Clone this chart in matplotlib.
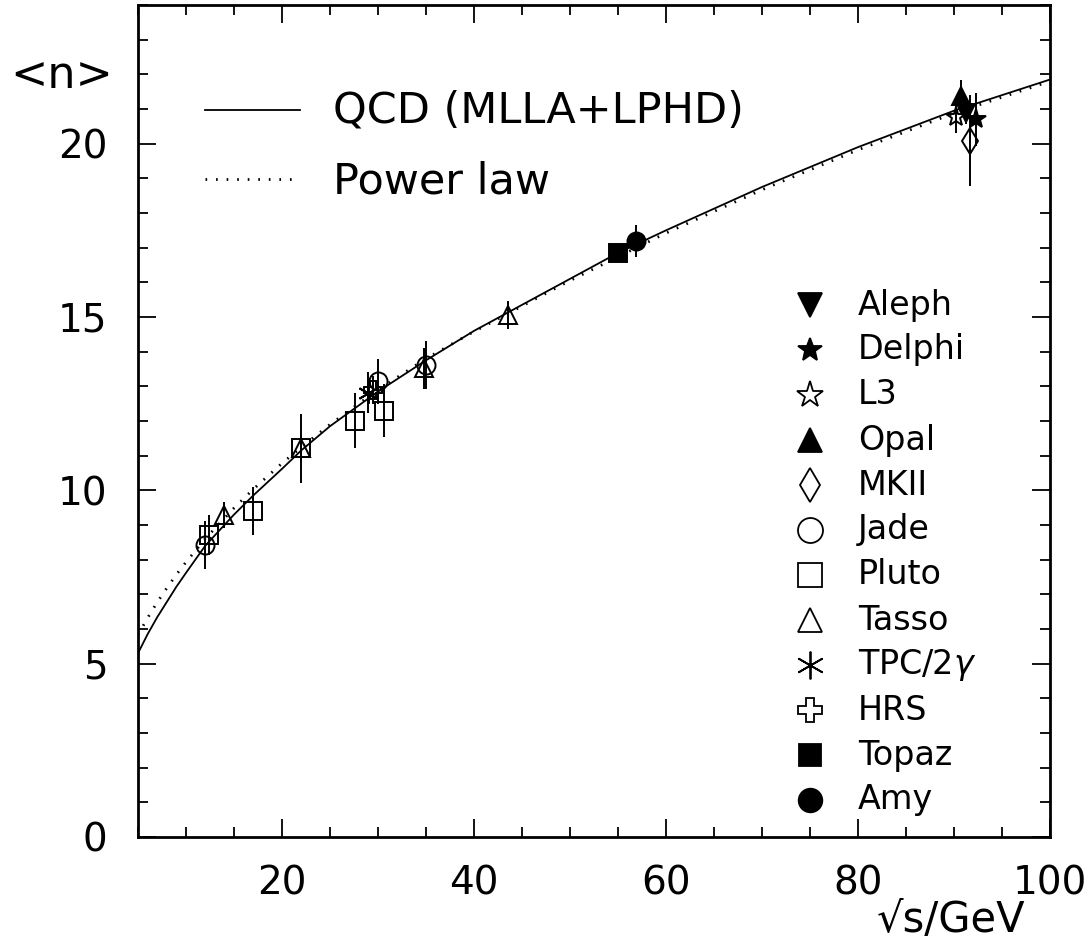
import matplotlib
matplotlib.use("Agg")
import matplotlib.pyplot as plt
from matplotlib.ticker import MultipleLocator

# ---------------- data ----------------
qcd_x = [5, 6, 7, 8, 9, 10, 12, 15, 17, 20, 22, 25, 30, 35, 40, 45, 50, 55, 60, 70, 80, 90, 100]
qcd_y = [5.30, 5.85, 6.34, 6.78, 7.22, 7.62, 8.40, 9.30, 9.85, 10.62, 11.15, 11.85, 12.85, 13.75,
         14.60, 15.35, 16.10, 16.85, 17.50, 18.75, 19.90, 20.95, 21.85]

pow_x = [5, 6, 7, 8, 9, 10, 12, 15, 17, 20, 22, 25, 30, 35, 40, 50, 60, 70, 80, 90, 100]
pow_y = [5.83, 6.32, 6.77, 7.18, 7.57, 7.93, 8.60, 9.49, 10.03, 10.78, 11.24, 11.90, 12.90, 13.80,
         14.58, 16.05, 17.42, 18.67, 19.82, 20.88, 21.80]

aleph_x, aleph_y, aleph_e = [91.2], [20.88], [0.30]
delphi_x, delphi_y, delphi_e = [92.3], [20.70], [0.76]
l3_x, l3_y, l3_e = [90.2], [20.76], [0.46]
opal_x, opal_y, opal_e = [90.7], [21.38], [0.45]
mkii_x, mkii_y, mkii_e = [91.7], [20.09], [1.30]
jade_x, jade_y, jade_e = [12.0, 30.0, 35.0], [8.42, 13.14, 13.62], [0.70, 0.65, 0.70]
pluto_x, pluto_y, pluto_e = [12.4, 17.0, 22.0, 27.6, 30.6], [8.71, 9.41, 11.21, 12.01, 12.30], [0.58, 0.69, 1.00, 0.80, 0.77]
tasso_x, tasso_y, tasso_e = [14.0, 22.0, 34.8, 43.5], [9.29, 11.21, 13.52, 15.06], [0.38, 0.40, 0.60, 0.41]
tpc_x, tpc_y, tpc_e = [29.0], [12.82], [0.60]
hrs_x, hrs_y, hrs_e = [29.5], [12.90], [0.40]
topaz_x, topaz_y, topaz_e = [55.0], [16.86], [0.27]
amy_x, amy_y, amy_e = [56.9], [17.19], [0.47]

curve_labels = ["QCD (MLLA+LPHD)", "Power law"]
exp_labels = ["Aleph", "Delphi", "L3", "Opal", "MKII", "Jade", "Pluto", "Tasso",
              "TPC/2$\\gamma$", "HRS", "Topaz", "Amy"]

# ---------------- styles ----------------
W, H = 1088, 950
fig = plt.figure(figsize=(W / 100, H / 100), dpi=100)
L, R, B, T = 138, 1050, 837, 5
ax = fig.add_axes([L / W, 1 - B / H, (R - L) / W, (B - T) / H])

FONT = "DejaVu Sans"
plt.rcParams["font.family"] = [FONT]

DOT = (0, (0.6, 3.2))
ax.plot(qcd_x, qcd_y, color="black", lw=1.3, zorder=2)
ax.plot(pow_x, pow_y, color="black", lw=2.0, linestyle=DOT, zorder=2)

series = [
    (aleph_x, aleph_y, aleph_e, "v", "black", 13),
    (delphi_x, delphi_y, delphi_e, "*", "black", 15),
    (l3_x, l3_y, l3_e, "*", "none", 15),
    (opal_x, opal_y, opal_e, "^", "black", 13),
    (mkii_x, mkii_y, mkii_e, "d", "none", 13),
    (jade_x, jade_y, jade_e, "o", "none", 13),
    (pluto_x, pluto_y, pluto_e, "s", "none", 13),
    (tasso_x, tasso_y, tasso_e, "^", "none", 13),
    (tpc_x, tpc_y, tpc_e, (6, 2, 0), "black", 15),
    (hrs_x, hrs_y, hrs_e, "P", "none", 13),
    (topaz_x, topaz_y, topaz_e, "s", "black", 13),
    (amy_x, amy_y, amy_e, "o", "black", 13),
]
for x, y, e, m, fc, ms in series:
    ax.errorbar(x, y, yerr=e, fmt="none", ecolor="black", elinewidth=1.4, capsize=0, zorder=3)
    ax.plot(x, y, linestyle="none", marker=m, markersize=ms, markerfacecolor=fc,
            markeredgecolor="black", markeredgewidth=1.4, zorder=4)

ax.set_xlim(5, 100)
ax.set_ylim(0, 24)
ax.xaxis.set_major_locator(MultipleLocator(20))
ax.xaxis.set_minor_locator(MultipleLocator(5))
ax.yaxis.set_major_locator(MultipleLocator(5))
ax.yaxis.set_minor_locator(MultipleLocator(1))
ax.tick_params(which="both", direction="in", top=True, right=True, width=1.3, color="black")
ax.tick_params(which="major", length=13, labelsize=28)
ax.tick_params(which="minor", length=7)
ax.tick_params(axis="y", which="major", pad=22)
ax.tick_params(axis="x", which="major", pad=20)
ax.set_xticks([20, 40, 60, 80, 100])
for s in ax.spines.values():
    s.set_linewidth(2.0)

# top-left legend for curves
lx0, lx1 = (205 - L) / (R - L), (300 - L) / (R - L)
ax.plot([lx0, lx1], [(B - 110) / (B - T)] * 2, transform=ax.transAxes, color="black", lw=1.3)
ax.plot([lx0, lx1], [(B - 179) / (B - T)] * 2, transform=ax.transAxes, color="black", lw=2.0,
        linestyle=DOT)
ax.text((333 - L) / (R - L), (B - 110) / (B - T), curve_labels[0], transform=ax.transAxes,
        fontsize=31, va="center", ha="left")
ax.text((333 - L) / (R - L), (B - 182) / (B - T), curve_labels[1], transform=ax.transAxes,
        fontsize=31, va="center", ha="left")

# right legend for experiments
leg_markers = [("v", "black", 17), ("*", "black", 18), ("*", "none", 20), ("^", "black", 17),
               ("d", "none", 17), ("o", "none", 18), ("s", "none", 17), ("^", "none", 17),
               ((6, 2, 0), "black", 20), ("P", "none", 17), ("s", "black", 16), ("o", "black", 17)]
for i, (lab, (m, fc, ms)) in enumerate(zip(exp_labels, leg_markers)):
    py = 305 + i * 45
    yy = (B - py) / (B - T)
    ax.plot([(810 - L) / (R - L)], [yy], transform=ax.transAxes, marker=m, markersize=ms,
            markerfacecolor=fc, markeredgecolor="black", markeredgewidth=1.3, linestyle="none")
    ax.text((858 - L) / (R - L), yy, lab, transform=ax.transAxes, fontsize=24,
            va="center", ha="left")

fig.text(10 / W, 1 - 75 / H, "<n>", fontsize=32, ha="left", va="center")
fig.text(1025 / W, 1 - 920 / H, "\u221as/GeV", fontsize=30, ha="right", va="center")

fig.savefig("out.png", dpi=100)
